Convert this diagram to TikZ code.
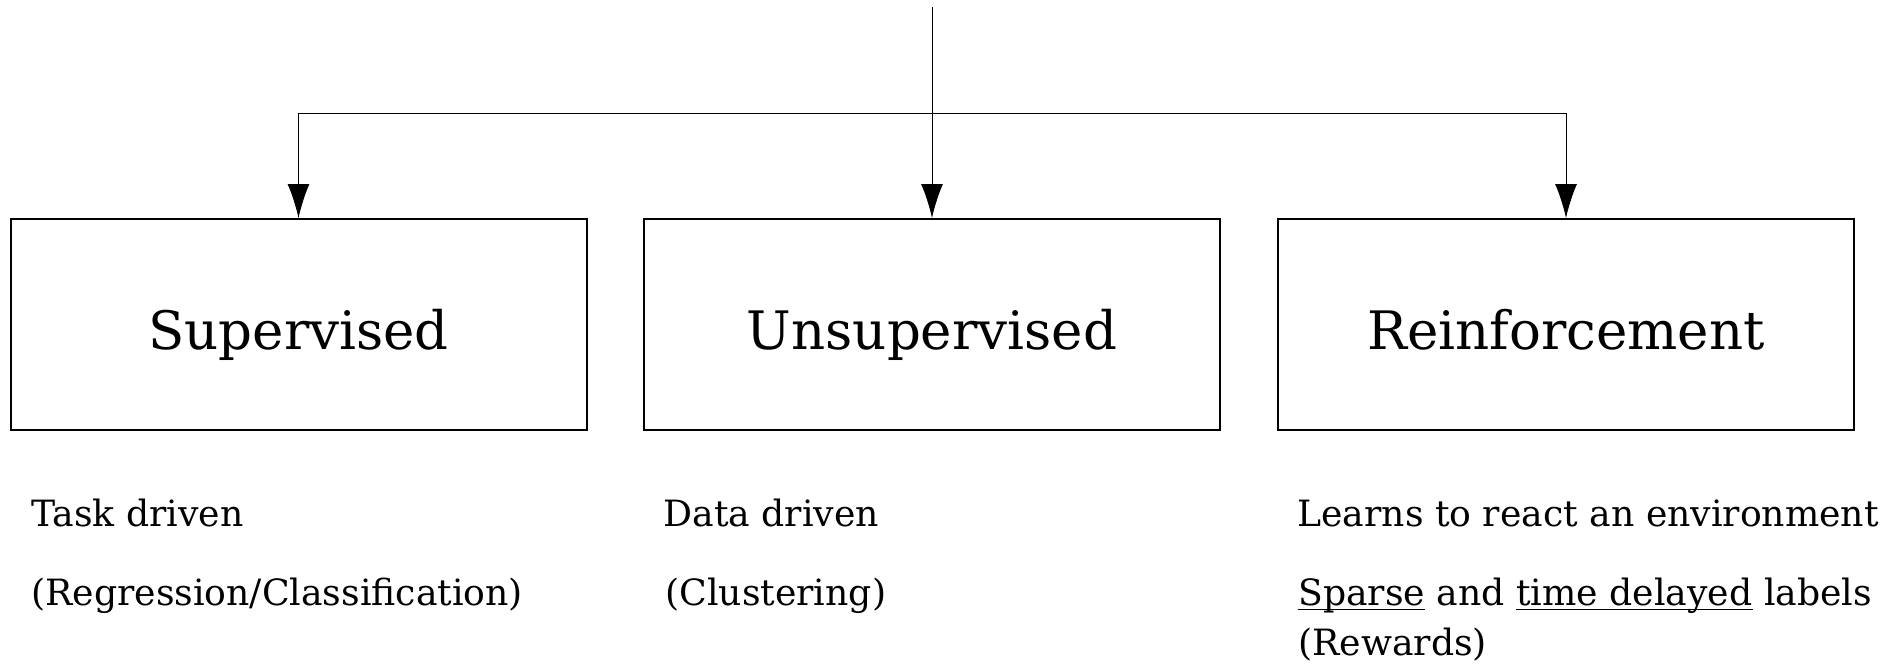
\documentclass[tikz,border=0pt]{standalone}
\usepackage{fontspec}
\setmainfont{DejaVu Serif}
\usepackage{tikz}
\usetikzlibrary{arrows.meta}

% underline at a fixed depth below the baseline
\newcommand{\markline}[1]{\setbox0\hbox{#1}\leavevmode\rlap{\vrule width\wd0 height -0.1em depth 0.145em}\box0\relax}

\begin{document}
\begin{tikzpicture}[x=0.5pt, y=-0.5pt,
  kind/.style={draw, line width=1pt, minimum width=288pt, minimum height=105.5pt,
    inner sep=0pt, font=\fontsize{26.5pt}{31pt}\selectfont, text height=27pt, text depth=2pt},
  note/.style={anchor=base west, inner sep=0pt, font=\fontsize{18.1pt}{21pt}\selectfont},
  link/.style={line width=0.5pt, -{Latex[length=17pt, width=11pt]}}]
\useasboundingbox (0,0) rectangle (1901,665);

\node[kind] (sup) at (298.5, 324.5) {Supervised};
\node[kind] (uns) at (932, 324.5) {Unsupervised};
\node[kind] (rei) at (1566, 324.5) {Reinforcement};

\coordinate (src) at (932, 7);
\coordinate (bar) at (932, 113);

\draw[link] (src) -- (uns.north);
\draw[link] (bar) -| (sup.north);
\draw[link] (bar) -| (rei.north);

\node[note] (task) at (31, 526) {Task driven};
\node[note] (regr) at (31, 605) {(Regression/Classification)};
\node[note] (data) at (663, 526) {Data driven};
\node[note] (clus) at (665, 605) {(Clustering)};
\node[note] (learn) at (1297, 526) {Learns to react an environment};
\node[note] (sparse) at (1298, 605) {\markline{Sparse} and \markline{time delayed} labels};
\node[note] (rew) at (1298, 655) {(Rewards)};
\end{tikzpicture}
\end{document}
